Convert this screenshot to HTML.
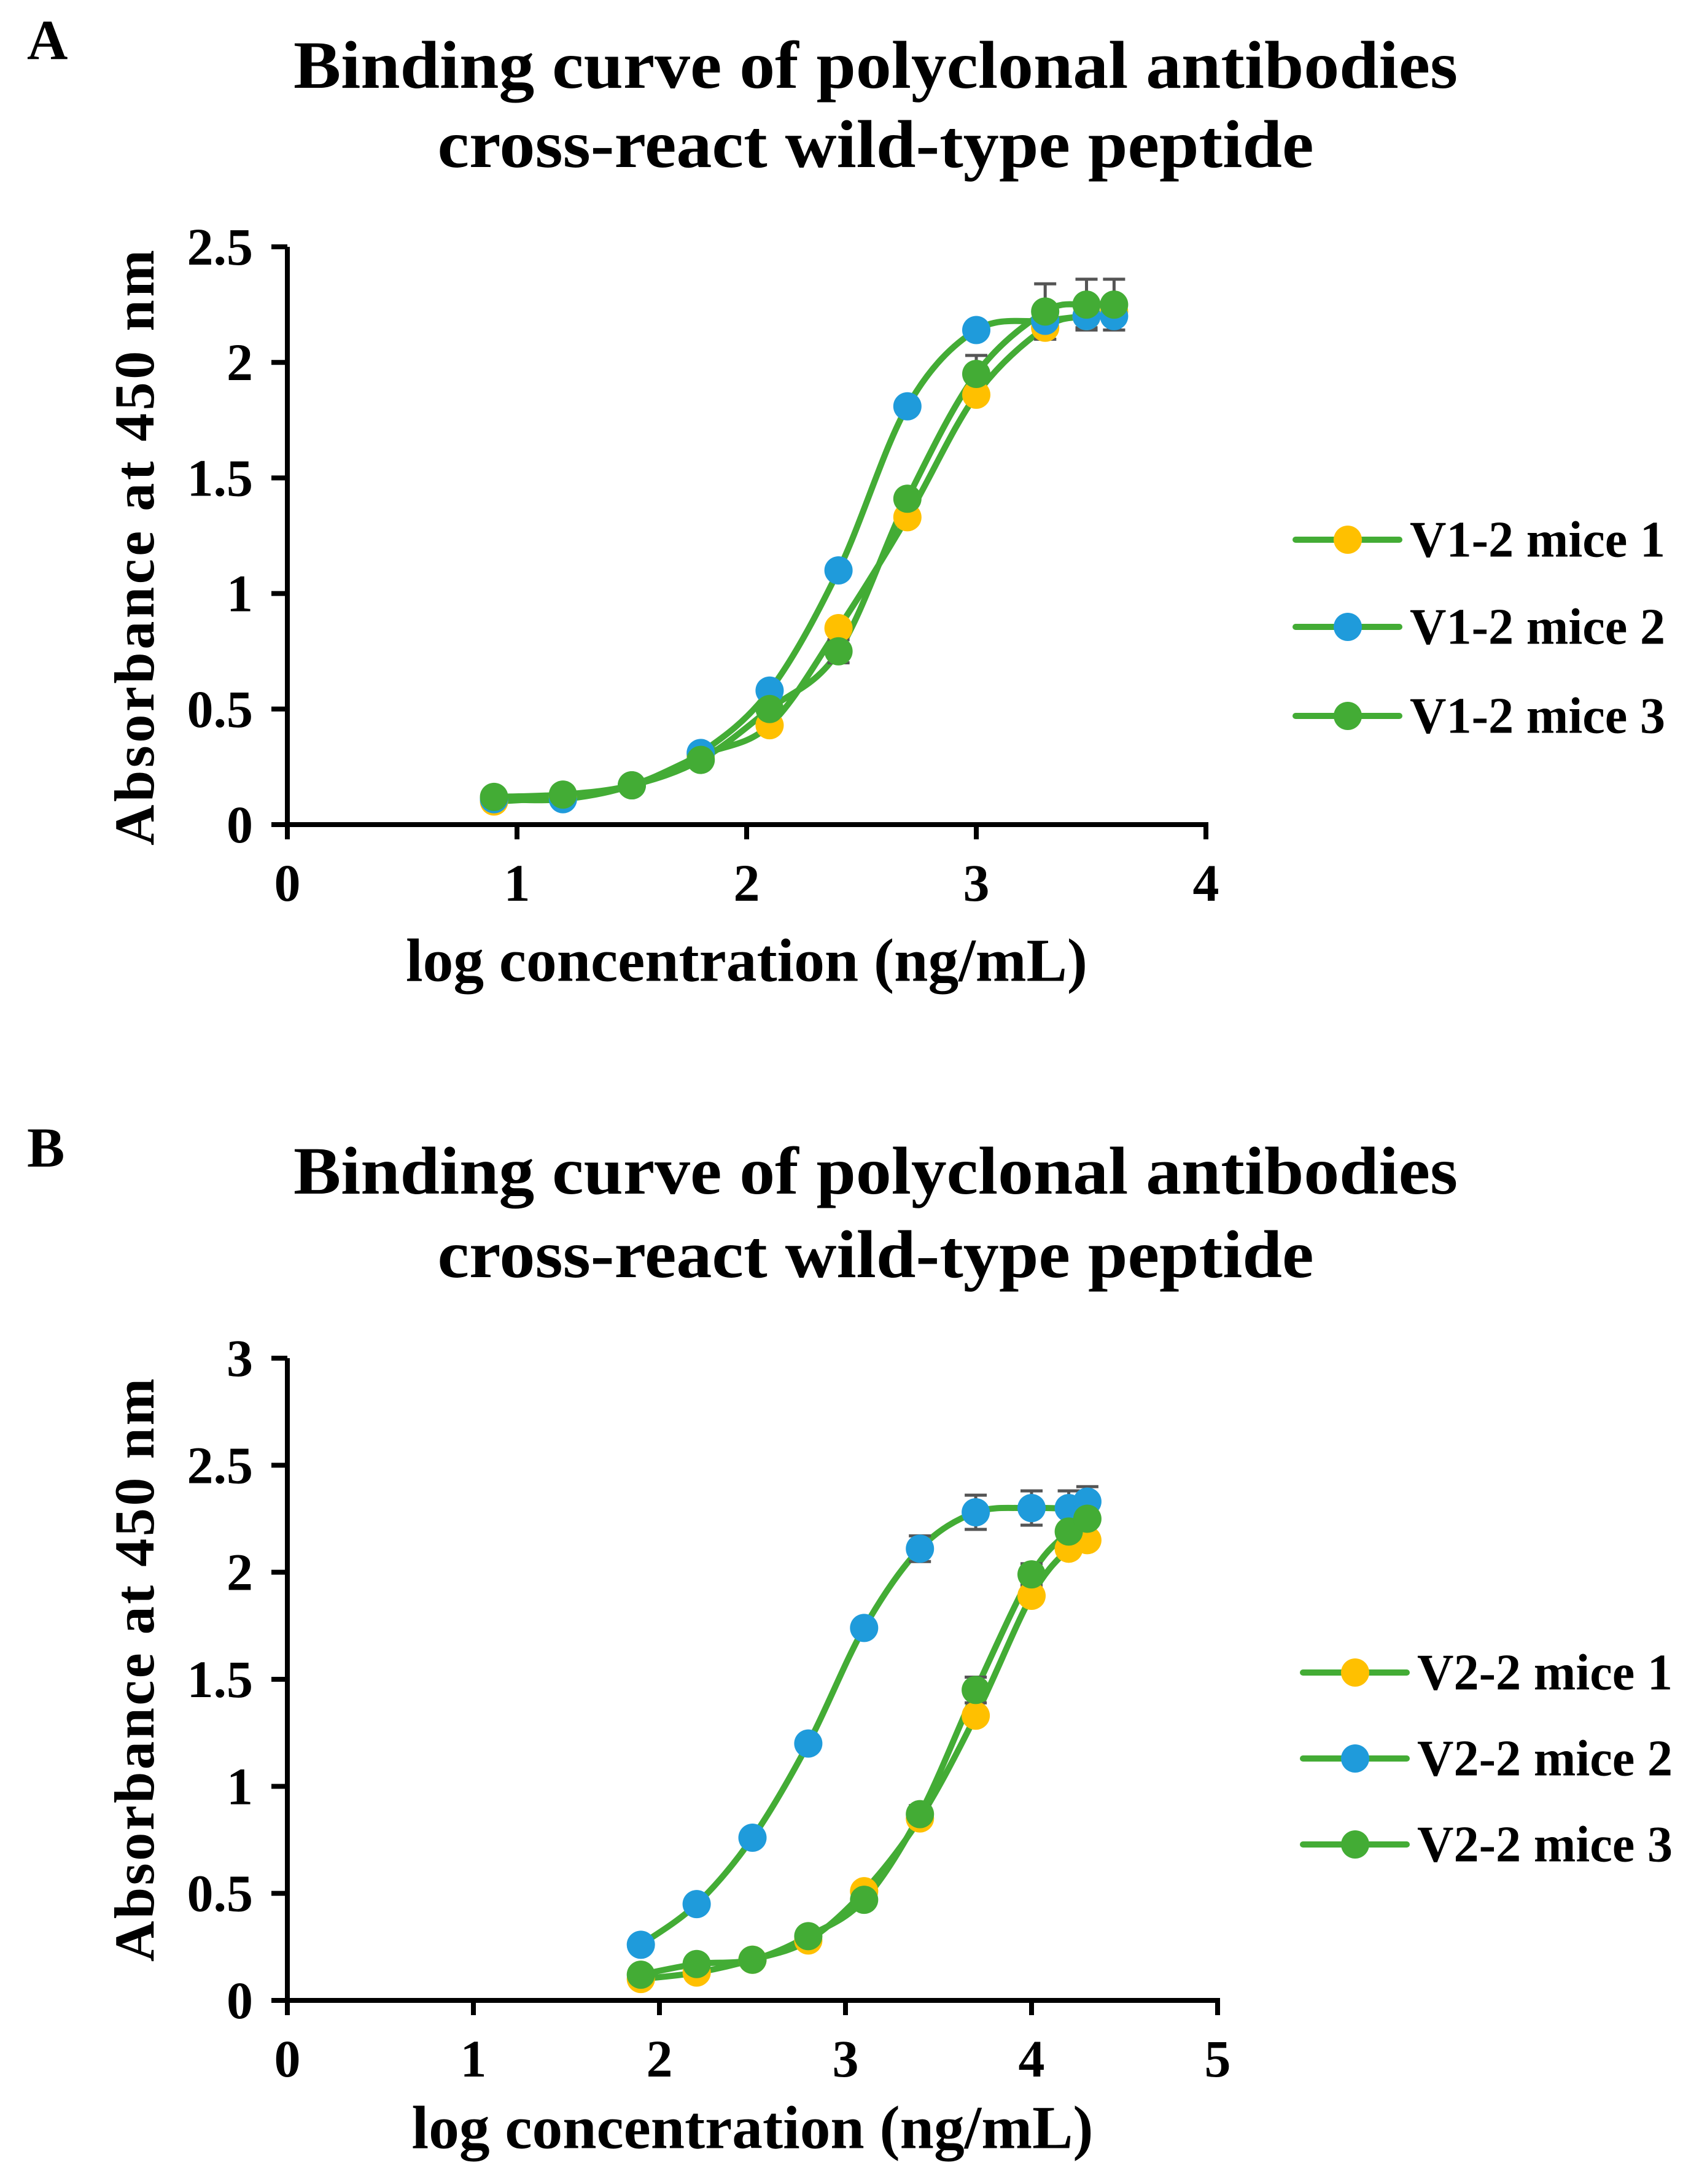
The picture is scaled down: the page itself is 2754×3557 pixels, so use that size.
<!DOCTYPE html>
<html><head><meta charset="utf-8"><style>
html,body{margin:0;padding:0;background:#fff;}
svg{display:block;font-family:"Liberation Serif",serif;font-weight:bold;}
</style></head><body>
<svg id="fig" width="2754" height="3557" viewBox="0 0 2754 3557" xmlns="http://www.w3.org/2000/svg"></svg>
<script>
// ---- Panel A data ----
const catsA = [0.9,1.2,1.5,1.8,2.1,2.4,2.7,3.0,3.3,3.48,3.6];
const a_m1 = [0.10,0.12,0.17,0.30,0.43,0.85,1.33,1.86,2.15,2.20,2.22];
const a_m2 = [0.11,0.11,0.17,0.31,0.58,1.10,1.81,2.14,2.18,2.20,2.20];
const a_m3 = [0.12,0.13,0.17,0.28,0.50,0.75,1.41,1.95,2.22,2.25,2.25];
const a_err1 = [0,0,0,0,0,0,0,0.03,0.05,0.05,0.05];
const a_err2 = [0,0,0,0,0,0,0,0.03,0.05,0.06,0.06];
const a_err3 = [0,0,0,0,0,0.05,0,0.08,0.12,0.11,0.11];
const xTicksA = [0,1,2,3,4];
const yTicksA = [0,0.5,1,1.5,2,2.5];
const yTickLabelsA = ["0","0.5","1","1.5","2","2.5"];
const namesA = ["V1-2 mice 1","V1-2 mice 2","V1-2 mice 3"];
// ---- Panel B data ----
const catsB = [1.9,2.2,2.5,2.8,3.1,3.4,3.7,4.0,4.2,4.3];
const b_m1 = [0.10,0.13,0.19,0.28,0.51,0.85,1.33,1.89,2.11,2.15];
const b_m2 = [0.26,0.45,0.76,1.20,1.74,2.11,2.28,2.30,2.30,2.33];
const b_m3 = [0.12,0.17,0.19,0.30,0.47,0.87,1.45,1.99,2.19,2.25];
const b_err1 = [0,0,0,0,0,0,0,0.03,0.03,0.03];
const b_err2 = [0,0,0,0,0,0.06,0.08,0.08,0.08,0.07];
const b_err3 = [0,0,0,0,0,0.04,0.06,0.05,0.03,0.03];
const xTicksB = [0,1,2,3,4,5];
const yTicksB = [0,0.5,1,1.5,2,2.5,3];
const yTickLabelsB = ["0","0.5","1","1.5","2","2.5","3"];
const namesB = ["V2-2 mice 1","V2-2 mice 2","V2-2 mice 3"];

const colors = ["#FFC000","#1F9BDB","#43AC35"];
const lineColor = "#43AC35";
const NS = "http://www.w3.org/2000/svg";
const svg = document.getElementById("fig");
function el(tag, attrs, parent){const e=document.createElementNS(NS,tag);for(const k in attrs)e.setAttribute(k,attrs[k]);(parent||svg).appendChild(e);return e;}
function txt(s, attrs, parent){const e=el("text",attrs,parent);e.textContent=s;return e;}

function smoothPath(pts){
  let d="M"+pts[0][0]+","+pts[0][1];
  for(let i=0;i<pts.length-1;i++){
    const p0=pts[Math.max(0,i-1)],p1=pts[i],p2=pts[i+1],p3=pts[Math.min(pts.length-1,i+2)];
    const c1=[p1[0]+(p2[0]-p0[0])/6,p1[1]+(p2[1]-p0[1])/6];
    const c2=[p2[0]-(p3[0]-p1[0])/6,p2[1]-(p3[1]-p1[1])/6];
    d+=" C"+c1[0]+","+c1[1]+" "+c2[0]+","+c2[1]+" "+p2[0]+","+p2[1];
  }
  return d;
}

function panel(cfg){
  const g=el("g",{});
  
  
  const X=v=>cfg.x0+(v-cfg.xmin)/(cfg.xmax-cfg.xmin)*(cfg.x1-cfg.x0);
  const Y=v=>cfg.y0-(v-cfg.ymin)/(cfg.ymax-cfg.ymin)*(cfg.y0-cfg.y1);
  const L=txt(cfg.letter,{x:cfg.letterX,y:cfg.letterY,"font-size":92},g);
  
  
  const tl=[1896,1427];
  cfg.title.forEach((t,i)=>{
    const T=txt(t,{x:1426,y:cfg.titleY[i],"font-size":110,"text-anchor":"middle","dominant-baseline":"central",textLength:tl[i],lengthAdjust:"spacingAndGlyphs"},g);
    
    
  });
  const ya=el("line",{x1:cfg.x0,y1:cfg.y0,x2:cfg.x0,y2:cfg.y1,stroke:"#000","stroke-width":8},g);
  
  
  const xa=el("line",{x1:cfg.x0-4,y1:cfg.y0,x2:cfg.x1+4,y2:cfg.y0,stroke:"#000","stroke-width":8},g);
  
  
  cfg.yTicks.forEach((v,i)=>{
    const t=el("line",{x1:cfg.x0-26,y1:Y(v),x2:cfg.x0,y2:Y(v),stroke:"#000","stroke-width":8},g);
    
    
    const l=txt(cfg.yLabels[i],{x:cfg.x0-56,y:Y(v),"font-size":86,"text-anchor":"end","dominant-baseline":"central"},g);
    
    
  });
  cfg.xTicks.forEach(v=>{
    const t=el("line",{x1:X(v),y1:cfg.y0,x2:X(v),y2:cfg.y0+24,stroke:"#000","stroke-width":8},g);
    
    
    const l=txt(String(v),{x:X(v),y:cfg.y0+95,"font-size":86,"text-anchor":"middle","dominant-baseline":"central"},g);
    
    
  });
  const xt=txt("log concentration (ng/mL)",{x:(cfg.x0+cfg.x1)/2,y:cfg.xTitleY,"font-size":100,"text-anchor":"middle","dominant-baseline":"central",textLength:1110,lengthAdjust:"spacingAndGlyphs"},g);
  
  
  const yt=txt("Absorbance at 450 nm",{x:0,y:0,"font-size":92,"text-anchor":"middle","dominant-baseline":"central",textLength:cfg.yTitleLen,lengthAdjust:"spacing",transform:"translate(219,"+cfg.yTitleC+") rotate(-90)"},g);
  
  
  cfg.series.forEach((s,k)=>{
    const p=el("path",{d:smoothPath(cfg.cats.map((c,i)=>[X(c),Y(s[i])])),fill:"none",stroke:lineColor,"stroke-width":10,"stroke-linecap":"round"},g);
    
    
  });
  cfg.series.forEach((s,k)=>{
    cfg.cats.forEach((c,i)=>{
      const e=cfg.errs[k][i]; if(!e) return;
      const x=X(c),yt=Y(s[i]+e),yb=Y(s[i]-e);
      const eb=el("path",{d:"M"+x+","+yt+"V"+yb+"M"+(x-18)+","+yt+"H"+(x+18)+"M"+(x-18)+","+yb+"H"+(x+18),stroke:"#555","stroke-width":5,fill:"none"},g);
      
      
    });
  });
  cfg.series.forEach((s,k)=>{
    cfg.cats.forEach((c,i)=>{
      const m=el("circle",{cx:X(c),cy:Y(s[i]),r:23,fill:colors[k]},g);
      
      
    });
  });
  cfg.names.forEach((n,k)=>{
    const y=cfg.legY[k];
    const lg=el("g",{},g);
    
    
    el("line",{x1:cfg.legX,y1:y,x2:cfg.legX+169,y2:y,stroke:lineColor,"stroke-width":10,"stroke-linecap":"round"},lg);
    el("circle",{cx:cfg.legX+85,cy:y,r:23,fill:colors[k]},lg);
    txt(n,{x:cfg.legX+186,y:y,"font-size":84,"dominant-baseline":"central",textLength:416,lengthAdjust:"spacingAndGlyphs"},lg);
  });
}

panel({id:"panel-a",letter:"A",letterX:44,letterY:96,title:["Binding curve of polyclonal antibodies","cross-react wild-type peptide"],titleY:[106,235],
  x0:468,x1:1964,xmin:0,xmax:4,y0:1343,y1:402,ymin:0,ymax:2.5,xTicks:xTicksA,yTicks:yTicksA,yLabels:yTickLabelsA,
  xTitleY:1564,yTitleC:892,yTitleLen:970,cats:catsA,series:[a_m1,a_m2,a_m3],errs:[a_err1,a_err2,a_err3],names:namesA,legX:2110,legY:[879,1021,1166]});
panel({id:"panel-b",letter:"B",letterX:44,letterY:1900,title:["Binding curve of polyclonal antibodies","cross-react wild-type peptide"],titleY:[1907,2043],
  x0:468,x1:1983,xmin:0,xmax:5,y0:3258,y1:2212,ymin:0,ymax:3,xTicks:xTicksB,yTicks:yTicksB,yLabels:yTickLabelsB,
  xTitleY:3465,yTitleC:2720,yTitleLen:950,cats:catsB,series:[b_m1,b_m2,b_m3],errs:[b_err1,b_err2,b_err3],names:namesB,legX:2122,legY:[2724,2864,3004]});
</script>
</body></html>
